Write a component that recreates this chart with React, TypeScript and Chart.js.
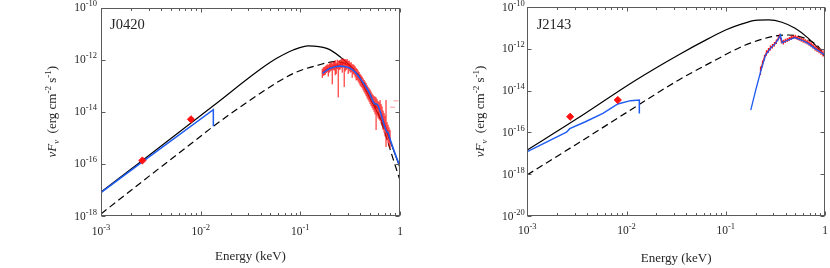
import React, { useEffect, useRef } from "react";
import { Chart, registerables } from "chart.js";

Chart.register(...registerables);

const SERIF = '"Liberation Serif", "Times New Roman", serif';

// ---------- J0420 (log10 E [keV], log10 νFν [erg cm^-2 s^-1]) ----------
const j0420TotalLogE = [-3.0, -2.585, -1.873, -1.405, -1.237, -1.071, -0.92, -0.735, -0.602, -0.435, -0.334, -0.268, -0.201, -0.134, -0.07, 0];
const j0420TotalLogF = [-17.08, -15.87, -13.77, -12.38, -11.95, -11.63, -11.47, -11.57, -11.89, -12.53, -13.24, -13.72, -14.22, -14.78, -15.42, -16.15];

const j0420DashLogE = [-3.0, -2.5, -2.0, -1.873, -1.405, -1.071, -0.82, -0.652, -0.5, -0.38, -0.271, -0.201, -0.131, -0.07, 0];
const j0420DashLogF = [-17.92, -16.42, -14.94, -14.56, -13.3, -12.53, -12.21, -12.08, -12.25, -12.79, -13.56, -14.25, -15.05, -15.8, -16.63];

const j0420UvModelLogE = [-3.0, -2.585, -1.873, -1.873];
const j0420UvModelLogF = [-17.1, -15.92, -13.92, -14.56];

const j0420XModelLogE = [-0.776, -0.74, -0.7, -0.65, -0.6, -0.55, -0.5, -0.45, -0.4, -0.35, -0.3, -0.268, -0.25, -0.23, -0.2, -0.15, -0.13, -0.12, -0.1, -0.05, -0.01];
const j0420XModelLogF = [-12.53, -12.42, -12.33, -12.27, -12.25, -12.27, -12.33, -12.48, -12.72, -13.0, -13.33, -13.62, -13.7, -13.72, -13.98, -14.6, -14.78, -14.8, -15.05, -15.6, -16.0];

const j0420XDataLogE = [
  -0.78, -0.77, -0.76, -0.75, -0.74, -0.73, -0.72, -0.71, -0.7, -0.69, -0.68, -0.67, -0.66, -0.65, -0.64, -0.63, -0.62, -0.61, -0.6, -0.59,
  -0.58, -0.57, -0.56, -0.55, -0.54, -0.53, -0.52, -0.51, -0.5, -0.49, -0.48, -0.47, -0.46, -0.45, -0.44, -0.43, -0.42, -0.41, -0.4, -0.39,
  -0.38, -0.37, -0.36, -0.35, -0.34, -0.33, -0.32, -0.31, -0.3, -0.29, -0.28, -0.27, -0.26, -0.25, -0.24, -0.23, -0.22, -0.21, -0.2, -0.19,
  -0.18, -0.17, -0.16, -0.15, -0.14, -0.13, -0.12, -0.11, -0.1,
];
const j0420XDataLogF = [
  -12.5, -12.45, -12.42, -12.4, -12.36, -12.33, -12.38, -12.3, -12.28, -12.26, -12.3, -12.24, -12.22, -12.2, -12.32, -12.18, -12.25, -12.2, -12.18, -12.15,
  -12.22, -12.12, -12.15, -12.18, -12.2, -12.16, -12.24, -12.22, -12.3, -12.28, -12.35, -12.36, -12.4, -12.45, -12.52, -12.56, -12.62, -12.68, -12.75, -12.8,
  -12.85, -12.92, -13.0, -13.05, -13.12, -13.2, -13.28, -13.34, -13.4, -13.48, -13.55, -13.6, -13.65, -13.7, -13.75, -13.82, -13.9, -13.95, -14.0, -14.08,
  -14.15, -14.28, -14.4, -14.5, -14.6, -14.7, -14.8, -14.9, -15.0,
];
const j0420XDataLo = [
  -12.7, -12.62, -12.6, -12.58, -12.52, -12.48, -12.65, -12.5, -12.45, -12.42, -12.95, -12.4, -12.42, -12.6, -12.55, -12.36, -13.45, -12.4, -12.38, -12.32,
  -12.5, -12.3, -13.05, -12.45, -12.4, -12.35, -12.55, -12.42, -12.5, -12.48, -12.7, -12.55, -12.6, -12.68, -12.8, -12.78, -12.85, -12.92, -13.0, -13.05,
  -13.1, -13.18, -13.25, -13.32, -13.4, -13.48, -13.55, -13.62, -13.7, -13.78, -13.85, -13.92, -14.0, -14.1, -14.7, -14.15, -14.25, -14.3, -14.35, -14.45,
  -14.55, -14.7, -14.8, -14.95, -15.35, -15.1, -15.2, -15.3, -15.4,
];
const j0420XDataHi = [
  -12.35, -12.3, -12.28, -12.25, -12.22, -12.18, -12.2, -12.15, -12.12, -12.1, -12.15, -12.08, -12.08, -12.02, -12.12, -12.0, -12.05, -12.02, -12.02, -11.96,
  -11.98, -11.95, -11.98, -11.98, -12.0, -11.98, -12.05, -12.04, -12.12, -12.1, -12.18, -12.18, -12.22, -12.26, -12.32, -12.36, -12.42, -12.48, -12.55, -12.6,
  -12.65, -12.72, -12.78, -12.84, -12.9, -12.98, -13.05, -13.1, -13.15, -13.22, -13.3, -13.35, -13.4, -13.42, -13.45, -13.52, -13.6, -13.62, -13.55, -13.7,
  -13.8, -13.95, -14.05, -14.15, -13.55, -14.4, -14.5, -14.6, -14.7,
];

const j0420FaintLogE = [-0.075, -0.04];
const j0420FaintLogF = [-13.83, -13.58];

const j0420UvDataLogE = [-2.585, -2.097];
const j0420UvDataLogF = [-15.87, -14.29];

// ---------- J2143 ----------
const j2143TotalLogE = [-3.0, -2.505, -1.904, -1.473, -1.17, -1.002, -0.836, -0.702, -0.568, -0.435, -0.301, -0.167, -0.067, 0];
const j2143TotalLogF = [-16.84, -15.36, -13.49, -12.28, -11.5, -11.1, -10.81, -10.64, -10.62, -10.73, -11.02, -11.5, -11.98, -12.38];

const j2143DashLogE = [-3.0, -2.5, -2.0, -1.473, -1.136, -0.802, -0.536, -0.37, -0.2, -0.067, 0];
const j2143DashLogF = [-18.03, -16.55, -15.05, -13.49, -12.62, -11.82, -11.42, -11.34, -11.5, -11.9, -12.38];

const j2143UvModelLogE = [-3.0, -2.63, -2.605, -2.572, -2.42, -2.238, -2.088, -1.96, -1.871, -1.871];
const j2143UvModelLogF = [-16.92, -16.05, -15.99, -15.82, -15.5, -15.09, -14.64, -14.48, -14.45, -15.09];

const j2143XModelLogE = [-0.748, -0.698, -0.649, -0.599, -0.549, -0.499, -0.466, -0.449, -0.432, -0.372, -0.305, -0.238, -0.171, -0.104, 0];
const j2143XModelLogF = [-14.93, -13.97, -13.1, -12.3, -11.98, -11.74, -11.5, -11.34, -11.71, -11.58, -11.47, -11.58, -11.74, -11.98, -12.3];

const j2143XDataLogE = [-0.65, -0.63, -0.61, -0.59, -0.57, -0.55, -0.53, -0.51, -0.49, -0.47, -0.455, -0.44, -0.42, -0.4, -0.38, -0.36, -0.34, -0.32, -0.3, -0.28, -0.26, -0.24, -0.22, -0.2, -0.18, -0.16, -0.14, -0.12, -0.1, -0.08, -0.06, -0.04, -0.02];
const j2143XDataLogF = [-13.05, -12.72, -12.42, -12.2, -12.08, -11.96, -11.88, -11.78, -11.66, -11.5, -11.38, -11.62, -11.68, -11.62, -11.58, -11.53, -11.48, -11.44, -11.43, -11.48, -11.52, -11.56, -11.6, -11.64, -11.68, -11.74, -11.8, -11.88, -11.96, -12.02, -12.08, -12.14, -12.22];
const j2143XDataErr = [0.2, 0.16, 0.14, 0.13, 0.12, 0.12, 0.11, 0.11, 0.11, 0.1, 0.1, 0.11, 0.11, 0.1, 0.1, 0.1, 0.1, 0.09, 0.1, 0.1, 0.1, 0.1, 0.11, 0.11, 0.11, 0.11, 0.12, 0.12, 0.13, 0.13, 0.13, 0.14, 0.15];

const j2143UvDataLogE = [-2.568, -2.088];
const j2143UvDataLogF = [-15.25, -14.45];

// ---------- axis ticks ----------
const xMajorExps = [-3, -2, -1, 0];
const xMinorMultipliers = [2, 3, 4, 5, 6, 7, 8, 9];
const j0420YTickExps = [-18, -16, -14, -12, -10];
const j2143YTickExps = [-20, -18, -16, -14, -12, -10];

const BLUE = "#1f5cf2";
const RED = "#ff1010";

const xy = (logE: number[], logF: number[]) => logE.map((e, i) => ({ x: 10 ** e, y: 10 ** logF[i] }));
const bars = (logE: number[], lo: number[], hi: number[]) =>
  logE.flatMap((e, i) => [
    { x: 10 ** e, y: 10 ** lo[i] },
    { x: 10 ** e, y: 10 ** hi[i] },
    { x: 10 ** e, y: null as any },
  ]);

function lineDs(data: any[], color: string, width: number, order: number, extra: any = {}) {
  return {
    data,
    borderColor: color,
    backgroundColor: color,
    borderWidth: width,
    pointRadius: 0,
    fill: false,
    tension: 0,
    spanGaps: false,
    order,
    ...extra,
  };
}

function diamondDs(data: any[]) {
  return {
    data,
    showLine: false,
    pointStyle: "rectRot",
    pointRadius: 3.6,
    pointBackgroundColor: RED,
    pointBorderColor: RED,
    borderColor: RED,
    backgroundColor: RED,
    order: 0,
  };
}

type PanelSpec = {
  left: number;
  width: number;
  height: number;
  plotLeft: number;
  plotRight: number;
  plotTop: number;
  plotBottom: number;
  yMinExp: number;
  yMaxExp: number;
  yTickExps: number[];
  name: string;
  nameX: number;
  nameY: number;
  yTitleX: number;
  xTitleY: number;
  xLabelY: number;
  yLabelGap: number;
  datasets: any[];
};

function drawPow(ctx: CanvasRenderingContext2D, exp: string, x: number, y: number, align: "right" | "center") {
  const base = "10";
  ctx.font = `11.5px ${SERIF}`;
  const wb = ctx.measureText(base).width;
  ctx.font = `8.5px ${SERIF}`;
  const we = ctx.measureText(exp).width;
  const total = wb + we;
  const x0 = align === "right" ? x - total : x - total / 2;
  ctx.textAlign = "left";
  ctx.textBaseline = "alphabetic";
  ctx.font = `11.5px ${SERIF}`;
  ctx.fillText(base, x0, y);
  ctx.font = `8.5px ${SERIF}`;
  ctx.fillText(exp, x0 + wb, y - 5);
}

function makeDecorPlugin(spec: PanelSpec) {
  return {
    id: "decor" + spec.name,
    afterDraw(chart: any) {
      const ctx: CanvasRenderingContext2D = chart.ctx;
      const xs = chart.scales.x;
      const ys = chart.scales.y;
      const { left, right, top, bottom } = chart.chartArea;
      ctx.save();
      ctx.strokeStyle = "#5a5a5a";
      ctx.lineWidth = 1;
      const L = Math.round(left) + 0.5;
      const R = Math.round(right) - 0.5;
      const T = Math.round(top) + 0.5;
      const B = Math.round(bottom) - 0.5;
      ctx.strokeRect(L, T, R - L, B - T);
      ctx.beginPath();
      for (const k of xMajorExps) {
        const px = Math.round(xs.getPixelForValue(10 ** k)) + 0.5;
        ctx.moveTo(px, B);
        ctx.lineTo(px, B - 4);
        ctx.moveTo(px, T);
        ctx.lineTo(px, T + 4);
        if (k < 0) {
          for (const m of xMinorMultipliers) {
            const pm = Math.round(xs.getPixelForValue(m * 10 ** k)) + 0.5;
            ctx.moveTo(pm, B);
            ctx.lineTo(pm, B - 2.5);
            ctx.moveTo(pm, T);
            ctx.lineTo(pm, T + 2.5);
          }
        }
      }
      for (const k of spec.yTickExps) {
        const py = Math.round(ys.getPixelForValue(10 ** k)) + 0.5;
        ctx.moveTo(L, py);
        ctx.lineTo(L + 4, py);
        ctx.moveTo(R, py);
        ctx.lineTo(R - 4, py);
      }
      ctx.stroke();

      ctx.fillStyle = "#262626";
      for (const k of spec.yTickExps) {
        const py = ys.getPixelForValue(10 ** k);
        drawPow(ctx, String(k), left - spec.yLabelGap, py + 3.5, "right");
      }
      for (const k of xMajorExps) {
        const px = xs.getPixelForValue(10 ** k);
        if (k === 0) {
          ctx.font = `11.5px ${SERIF}`;
          ctx.textAlign = "center";
          ctx.textBaseline = "alphabetic";
          ctx.fillText("1", px, spec.xLabelY);
        } else {
          drawPow(ctx, String(k), px, spec.xLabelY, "center");
        }
      }
      ctx.font = `13px ${SERIF}`;
      ctx.textAlign = "center";
      ctx.textBaseline = "alphabetic";
      ctx.fillText("Energy (keV)", (left + right) / 2, spec.xTitleY);

      ctx.font = `14.5px ${SERIF}`;
      ctx.textAlign = "left";
      ctx.fillText(spec.name, spec.nameX, spec.nameY);

      const parts: { t: string; font: string; dy: number }[] = [
        { t: "ν", font: `italic 13px ${SERIF}`, dy: 0 },
        { t: "F", font: `italic 13px ${SERIF}`, dy: 0 },
        { t: "ν", font: `italic 9px ${SERIF}`, dy: 3 },
        { t: "  (erg cm", font: `13px ${SERIF}`, dy: 0 },
        { t: "-2", font: `9px ${SERIF}`, dy: -5 },
        { t: " s", font: `13px ${SERIF}`, dy: 0 },
        { t: "-1", font: `9px ${SERIF}`, dy: -5 },
        { t: ")", font: `13px ${SERIF}`, dy: 0 },
      ];
      let total = 0;
      const widths = parts.map((p) => {
        ctx.font = p.font;
        const w = ctx.measureText(p.t).width;
        total += w;
        return w;
      });
      ctx.translate(spec.yTitleX, (top + bottom) / 2);
      ctx.rotate(-Math.PI / 2);
      ctx.textAlign = "left";
      let cx = -total / 2;
      parts.forEach((p, i) => {
        ctx.font = p.font;
        ctx.fillText(p.t, cx, 4 + p.dy);
        cx += widths[i];
      });
      ctx.restore();
    },
  };
}

function Panel({ spec }: { spec: PanelSpec }) {
  const ref = useRef<HTMLCanvasElement | null>(null);
  useEffect(() => {
    if (!ref.current) return;
    const chart = new Chart(ref.current, {
      type: "line",
      data: { datasets: spec.datasets },
      options: {
        responsive: false,
        animation: false,
        devicePixelRatio: 1,
        layout: {
          padding: { left: 0, top: spec.plotTop, right: spec.width - spec.plotRight, bottom: 0 },
        },
        plugins: { legend: { display: false }, tooltip: { enabled: false } },
        events: [],
        scales: {
          x: {
            type: "logarithmic",
            min: 1e-3,
            max: 1,
            ticks: { display: false },
            grid: { display: false },
            border: { display: false },
            afterFit: (s: any) => {
              s.height = spec.height - spec.plotBottom;
              s.paddingLeft = 0;
              s.paddingRight = 0;
            },
          },
          y: {
            type: "logarithmic",
            min: 10 ** spec.yMinExp,
            max: 10 ** spec.yMaxExp,
            ticks: { display: false },
            grid: { display: false },
            border: { display: false },
            afterFit: (s: any) => {
              s.width = spec.plotLeft;
              s.paddingTop = 0;
              s.paddingBottom = 0;
            },
          },
        },
      } as any,
      plugins: [makeDecorPlugin(spec)],
    });
    return () => chart.destroy();
  }, [spec]);
  return (
    <canvas
      ref={ref}
      width={spec.width}
      height={spec.height}
      style={{ position: "absolute", left: spec.left, top: 0, width: spec.width, height: spec.height, display: "block" }}
    />
  );
}

const j0420Spec: PanelSpec = {
  left: 0,
  width: 415,
  height: 268,
  plotLeft: 101,
  plotRight: 400,
  plotTop: 7.5,
  plotBottom: 216,
  yMinExp: -18,
  yMaxExp: -10,
  yTickExps: j0420YTickExps,
  name: "J0420",
  nameX: 110,
  nameY: 28.5,
  yTitleX: 52,
  xTitleY: 260,
  xLabelY: 235,
  yLabelGap: 4,
  datasets: [
    diamondDs(xy(j0420UvDataLogE, j0420UvDataLogF)),
    lineDs(xy(j0420UvModelLogE, j0420UvModelLogF), BLUE, 1.5, 1),
    lineDs(xy(j0420XModelLogE, j0420XModelLogF), BLUE, 1.6, 1, { cubicInterpolationMode: "monotone" }),
    lineDs(xy(j0420XDataLogE, j0420XDataLogF), RED, 1, 2),
    lineDs(bars(j0420XDataLogE, j0420XDataLo, j0420XDataHi), RED, 1, 3),
    {
      data: xy(j0420FaintLogE, j0420FaintLogF),
      showLine: false,
      pointStyle: "line",
      pointRadius: 2.5,
      borderColor: "rgba(255,60,60,0.35)",
      pointBorderColor: "rgba(255,60,60,0.35)",
      pointBorderWidth: 1.5,
      order: 3,
    },
    lineDs(xy(j0420DashLogE, j0420DashLogF), "#000", 1.2, 4, { borderDash: [7, 4], cubicInterpolationMode: "monotone" }),
    lineDs(xy(j0420TotalLogE, j0420TotalLogF), "#000", 1.2, 5, { cubicInterpolationMode: "monotone" }),
  ],
};

const j2143Spec: PanelSpec = {
  left: 415,
  width: 415,
  height: 268,
  plotLeft: 112.3,
  plotRight: 411.7,
  plotTop: 7,
  plotBottom: 216,
  yMinExp: -20,
  yMaxExp: -10,
  yTickExps: j2143YTickExps,
  name: "J2143",
  nameX: 121.7,
  nameY: 28.5,
  yTitleX: 65,
  xTitleY: 262,
  xLabelY: 233.5,
  yLabelGap: 2.5,
  datasets: [
    diamondDs(xy(j2143UvDataLogE, j2143UvDataLogF)),
    lineDs(xy(j2143UvModelLogE, j2143UvModelLogF), BLUE, 1.5, 1),
    lineDs(xy(j2143XModelLogE, j2143XModelLogF), BLUE, 1.3, 1),
    lineDs(xy(j2143XDataLogE, j2143XDataLogF), RED, 1.4, 2),
    lineDs(
      bars(
        j2143XDataLogE,
        j2143XDataLogF.map((f, i) => f - j2143XDataErr[i]),
        j2143XDataLogF.map((f, i) => f + j2143XDataErr[i])
      ),
      RED,
      1.2,
      3
    ),
    lineDs(xy(j2143DashLogE, j2143DashLogF), "#000", 1.2, 4, { borderDash: [7, 4], cubicInterpolationMode: "monotone" }),
    lineDs(xy(j2143TotalLogE, j2143TotalLogF), "#000", 1.2, 5, { cubicInterpolationMode: "monotone" }),
  ],
};

export default function App() {
  return (
    <div style={{ position: "absolute", left: 0, top: 0, width: 830, height: 268, background: "#fff", overflow: "hidden" }}>
      <Panel spec={j0420Spec} />
      <Panel spec={j2143Spec} />
    </div>
  );
}
